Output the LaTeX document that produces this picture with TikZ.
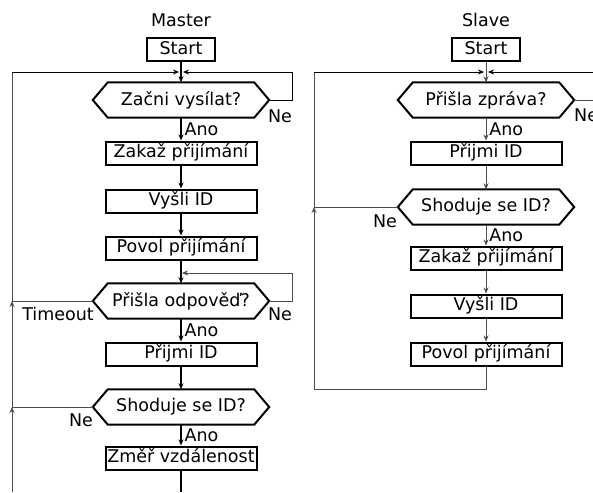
\documentclass[tikz,border=0pt]{standalone}
\usepackage{fontspec}
\setmainfont{DejaVu Sans}
\usetikzlibrary{arrows.meta,calc}
\begin{document}
\begin{tikzpicture}[x=1pt,y=-1pt,
  txt/.style={font=\fontsize{17.5}{20}\selectfont, inner sep=0pt},
  stepbox/.style={draw, line width=2pt, minimum width=151pt, text height=13pt, text depth=4pt, inner xsep=0pt, inner ysep=3pt, font=\fontsize{17.5}{20}\selectfont},
  startbox/.style={draw, line width=2pt, minimum width=68pt, text height=13pt, text depth=4pt, inner xsep=0pt, inner ysep=3pt, font=\fontsize{17.5}{20}\selectfont},
  decbox/.style={minimum width=146pt, minimum height=35pt, inner sep=0pt, font=\fontsize{17.5}{20}\selectfont},
  hexline/.style={line width=2pt, line join=miter},
  flow/.style={line width=1.3pt, -{Stealth[length=6pt,width=5pt]}},
  mid/.style={line width=0.9pt, black},
  midflow/.style={mid, -{Stealth[length=6pt,width=5pt]}},
  thin/.style={line width=0.8pt, black!70},
  thinflow/.style={thin, -{Stealth[length=6pt,width=5pt]}},
]
\useasboundingbox (0,0) rectangle (593,492);
\clip (0,0) rectangle (593,492);
\newcommand{\hexa}[1]{%
  \coordinate (#1R) at ([xshift=15pt]#1.east);
  \coordinate (#1L) at ([xshift=-15pt]#1.west);
  \draw[hexline] (#1.north west) -- (#1.north east) -- (#1R) -- (#1.south east) -- (#1.south west) -- (#1L) -- cycle;}

% ---------------- Master ----------------
\node[txt] (mt) at (181,20) {Master};
\node[startbox] (ms) at (181,50) {Start};
\coordinate (mj1) at (181,72);
\node[decbox] (md1) at (181,100) {Začni vysílat?};
\hexa{md1}
\node[stepbox] (mb1) at (181,153) {Zakaž přijímání};
\node[stepbox] (mb2) at (181,201) {Vyšli ID};
\node[stepbox] (mb3) at (181,248) {Povol přijímání};
\coordinate (mj2) at (181,273);
\node[decbox] (md2) at (181,301) {Přišla odpověď?};
\hexa{md2}
\node[stepbox] (mb4) at (181,354) {Přijmi ID};
\node[decbox] (md3) at (181,407) {Shoduje se ID?};
\hexa{md3}
\node[stepbox] (mb5) at (181,458) {Změř vzdálenost};
\coordinate (mbot) at (181,492);
\coordinate (mleft) at (12,492);

\draw[flow] (ms.south) -- (md1.north);
\draw[flow] (md1.south) -- node[txt, right=3pt]{Ano} (mb1.north);
\draw[flow] (mb1.south) -- (mb2.north);
\draw[flow] (mb2.south) -- (mb3.north);
\draw[flow] (mb3.south) -- (md2.north);
\draw[flow] (md2.south) -- node[txt, right=3pt]{Ano} (mb4.north);
\draw[flow] (mb4.south) -- (md3.north);
\draw[flow] (md3.south) -- node[txt, right=3pt]{Ano} (mb5.north);
\draw[line width=1.3pt] (mb5.south) -- (mbot);

% Ne loop of first decision
\draw[midflow] (md1R) -- (292,100) -- (292,72) -- ([xshift=2pt]mj1);
\node[txt] (mne1) at (280,116) {Ne};
% Ne loop of second decision
\draw[thinflow] (md2R) -- (292,301) -- (292,273) -- ([xshift=1pt]mj2);
\node[txt] (mne2) at (280,314) {Ne};
% left return line
\draw[thinflow] (mleft) -- (12,407);
\draw[thinflow] (12,407) -- (12,301);
\draw[thin] (12,301) -- (12,72);
\draw[midflow] (12,72) -- ([xshift=-2pt]mj1);
\draw[thin] (md2L) -- (12,301);
\draw[thin] (md3L) -- (12,407);
\node[txt] (mto) at (58,314) {Timeout};
\node[txt] (mne3) at (81,420) {Ne};

% ---------------- Slave ----------------
\node[txt] (st) at (486,20) {Slave};
\node[startbox] (ss) at (486,50) {Start};
\coordinate (sj1) at (486,72);
\node[decbox] (sd1) at (486,100) {Přišla zpráva?};
\hexa{sd1}
\node[stepbox] (sb1) at (486,153) {Přijmi ID};
\node[decbox] (sd2) at (486,207) {Shoduje se ID?};
\hexa{sd2}
\node[stepbox] (sb2) at (486,258) {Zakaž přijímání};
\node[stepbox] (sb3) at (486,306) {Vyšli ID};
\node[stepbox] (sb4) at (486,354) {Povol přijímání};

\draw[thinflow] (ss.south) -- (sd1.north);
\draw[thinflow] (sd1.south) -- node[txt, right=3pt, black]{Ano} (sb1.north);
\draw[thinflow] (sb1.south) -- (sd2.north);
\draw[thinflow] (sd2.south) -- node[txt, right=3pt, black]{Ano} (sb2.north);
\draw[thinflow] (sb2.south) -- (sb3.north);
\draw[thinflow] (sb3.south) -- (sb4.north);

\draw[thin] (sd1R) -- (600,100) -- (600,72);
\draw[midflow] (600,72) -- ([xshift=2pt]sj1);
\node[txt, anchor=west] (sne1) at (574,115) {Ne};
\draw[thin] (sd2L) -- (314,207);
\node[txt] (sne2) at (385,221) {Ne};
\draw[thinflow] (sb4.south) -- (486,389) -- (314,389) -- (314,207);
\draw[thin] (314,207) -- (314,72);
\draw[midflow] (314,72) -- ([xshift=-2pt]sj1);
\end{tikzpicture}
\end{document}
